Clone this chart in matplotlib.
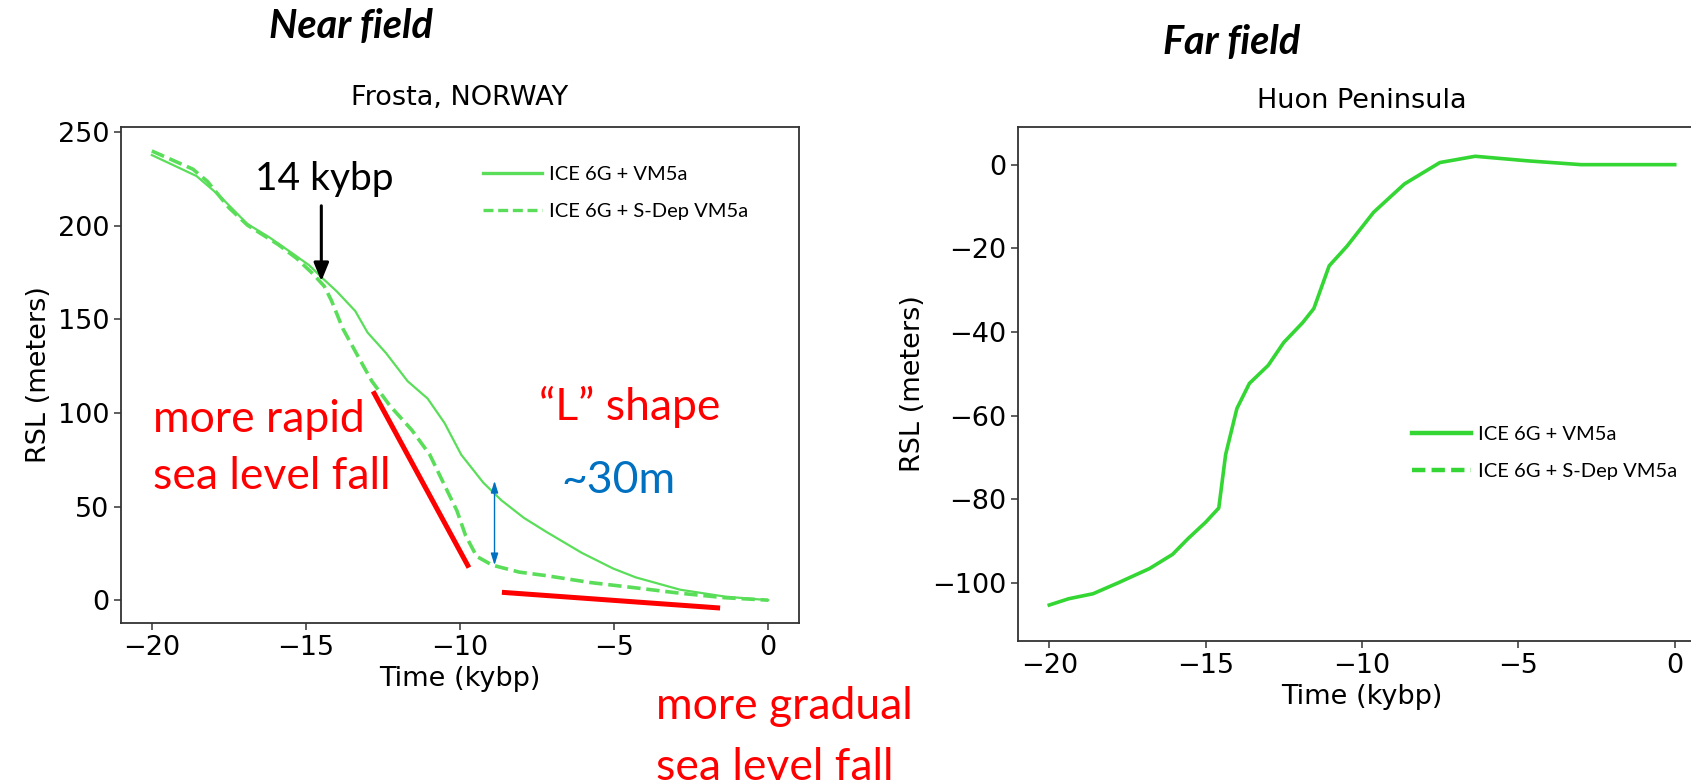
import matplotlib
matplotlib.use("Agg")
import matplotlib.pyplot as plt
from matplotlib.lines import Line2D

# ---------------- data ----------------
# Frosta, NORWAY (near field)
frosta_t_solid = [-20.0, -18.55, -17.8, -16.9, -16.2, -15.5, -14.9, -14.46, -14.0, -13.4,
                  -13.0, -12.4, -11.7, -11.05, -10.5, -9.96, -9.24, -8.66, -7.93, -7.2,
                  -6.05, -5.03, -4.3, -2.86, -1.4, 0.0]
frosta_rsl_solid = [237.8, 226.6, 216.0, 201.0, 194.0, 186.0, 179.0, 172.0, 165.0, 154.5,
                    143.0, 132.0, 117.0, 107.7, 94.6, 77.7, 62.7, 53.4, 44.0, 36.5,
                    25.3, 16.9, 12.2, 5.6, 1.9, 0.0]
frosta_t_dash = [-20.0, -18.67, -18.2, -17.5, -16.9, -15.9, -15.3, -14.75, -14.4, -14.17,
                 -13.8, -13.3, -12.86, -12.28, -11.56, -10.98, -10.54, -10.1, -9.82, -9.46,
                 -8.95, -8.08, -7.2, -5.76, -4.31, -2.86, -1.4, 0.0]
frosta_rsl_dash = [240.0, 230.3, 223.8, 209.7, 200.4, 190.0, 182.6, 174.0, 167.6, 160.0,
                   145.0, 130.0, 117.0, 104.0, 90.8, 77.7, 62.7, 47.8, 34.6, 23.4,
                   18.7, 15.0, 13.1, 9.4, 6.6, 3.7, 1.3, 0.0]

# Huon Peninsula (far field)
huon_t = [-20.0, -19.38, -18.6, -17.8, -16.8, -16.06, -15.56, -15.0, -14.58, -14.36,
          -14.0, -13.6, -13.0, -12.5, -11.9, -11.54, -11.05, -10.48, -9.63, -8.64,
          -7.51, -6.38, -4.69, -3.0, -1.3, 0.0]
huon_rsl = [-105.3, -103.8, -102.6, -100.0, -96.6, -93.2, -89.4, -85.5, -82.1, -69.3,
            -58.3, -52.3, -48.0, -42.5, -37.8, -34.4, -24.2, -19.5, -11.4, -4.6,
            0.5, 2.0, 0.9, 0.0, 0.0, 0.0]

legend_labels = ["ICE 6G + VM5a", "ICE 6G + S-Dep VM5a"]

# annotation segments (data units, left panel)
rapid_seg_t = [-12.82, -9.71]
rapid_seg_y = [111.6, 17.4]
gradual_seg_t = [-8.64, -1.56]
gradual_seg_y = [4.2, -4.2]
arrow14_t = -14.5
arrow14_y = [210.7, 170.4]
gap_t = -8.88
gap_y = [63.7, 18.7]

# ---------------- style ----------------
W, H = 1691, 784
fig = plt.figure(figsize=(W / 100, H / 100), dpi=100)

GREEN_L = "#5ade5a"
GREEN_R = "#33d633"
RED = "#ff0000"
BLUE = "#0070c0"
ANN_FONT = ["Lato", "DejaVu Sans"]
LEG_FONT = ["Lato", "DejaVu Sans"]
TICK = 19.5
RED_SIZE = 32
LEG_SIZE = 14.5


def px_axes(x0, y0, x1, y1):
    return fig.add_axes([x0 / W, 1 - y1 / H, (x1 - x0) / W, (y1 - y0) / H])


def style_axes(ax):
    for s in ax.spines.values():
        s.set_color("#333333")
        s.set_linewidth(1.3)
    ax.tick_params(labelsize=TICK, length=5, width=1.1, color="#333333")


def add_legend(ax, color, anchor, lw):
    handles = [Line2D([], [], color=color, lw=lw),
               Line2D([], [], color=color, lw=lw, linestyle=(0, (3.0, 1.4)))]
    ax.legend(handles, legend_labels, loc="upper left", bbox_to_anchor=anchor,
              frameon=False, borderpad=0, borderaxespad=0, handlelength=2.95,
              handletextpad=0.35, labelspacing=0.98,
              prop=dict(family=LEG_FONT, size=LEG_SIZE))


# ---------- left panel ----------
ax1 = px_axes(121, 127, 799, 623)
style_axes(ax1)
ax1.plot(frosta_t_solid, frosta_rsl_solid, color=GREEN_L, lw=1.6)
ax1.plot(frosta_t_dash, frosta_rsl_dash, color=GREEN_L, lw=2.6, linestyle=(0, (3.7, 1.6)))
ax1.set_xlim(-21, 1)
ax1.set_ylim(-12.2, 252.8)
ax1.set_title("Frosta, NORWAY", fontsize=TICK, pad=15.5)
ax1.set_xlabel("Time (kybp)", fontsize=TICK)
ax1.set_ylabel("RSL (meters)", fontsize=TICK)

ax1.plot(rapid_seg_t, rapid_seg_y, color=RED, lw=3.6, solid_capstyle="butt")
ax1.plot(gradual_seg_t, gradual_seg_y, color=RED, lw=3.6, solid_capstyle="butt")

ax1.annotate("", xy=(arrow14_t, arrow14_y[1]), xytext=(arrow14_t, arrow14_y[0]),
             arrowprops=dict(arrowstyle="-|>,head_length=1.1,head_width=0.45",
                             color="black", lw=2.2, shrinkA=0, shrinkB=0))
ax1.annotate("", xy=(gap_t, gap_y[1]), xytext=(gap_t, gap_y[0]),
             arrowprops=dict(arrowstyle="<|-|>,head_length=0.7,head_width=0.22",
                             color=BLUE, lw=1.0, shrinkA=0, shrinkB=0))

ax1.text(-14.39, 219, "14 kybp", fontsize=28, family=ANN_FONT, ha="center", va="baseline")
ax1.text(-19.97, 89.9, "more rapid", fontsize=RED_SIZE, color=RED, family=ANN_FONT,
         ha="left", va="baseline")
ax1.text(-19.97, 59.4, "sea level fall", fontsize=RED_SIZE, color=RED, family=ANN_FONT,
         ha="left", va="baseline")
ax1.text(-7.43, 96.4, "\u201cL\u201d shape", fontsize=RED_SIZE, color=RED, family=ANN_FONT,
         ha="left", va="baseline")
ax1.text(-6.7, 57.1, "~30m", fontsize=RED_SIZE, color=BLUE, family=ANN_FONT,
         ha="left", va="baseline")

add_legend(ax1, GREEN_L, (0.5339, 0.922), 2.4)

# ---------- right panel ----------
ax2 = px_axes(1018, 127, 1706, 641)
style_axes(ax2)
ax2.plot(huon_t, huon_rsl, color=GREEN_R, lw=2.6)
ax2.set_xlim(-21, 1)
ax2.set_ylim(-113.9, 9.0)
ax2.set_title("Huon Peninsula", fontsize=TICK, pad=13.5)
ax2.set_xlabel("Time (kybp)", fontsize=TICK)
ax2.set_ylabel("RSL (meters)", fontsize=TICK)
add_legend(ax2, GREEN_R, (0.5727, 0.419), 3.2)

# ---------- figure-level texts ----------
fig.text(351 / W, 1 - 38 / H, "Near field", fontsize=28.5, weight="bold", style="italic",
         family=ANN_FONT, ha="center", va="baseline")
fig.text(1232 / W, 1 - 54 / H, "Far field", fontsize=28.5, weight="bold", style="italic",
         family=ANN_FONT, ha="center", va="baseline")
fig.text(656 / W, 1 - 719 / H, "more gradual", fontsize=RED_SIZE, color=RED, family=ANN_FONT,
         ha="left", va="baseline")
fig.text(656 / W, 1 - 780 / H, "sea level fall", fontsize=RED_SIZE, color=RED, family=ANN_FONT,
         ha="left", va="baseline")

fig.savefig("out.png", dpi=100)
